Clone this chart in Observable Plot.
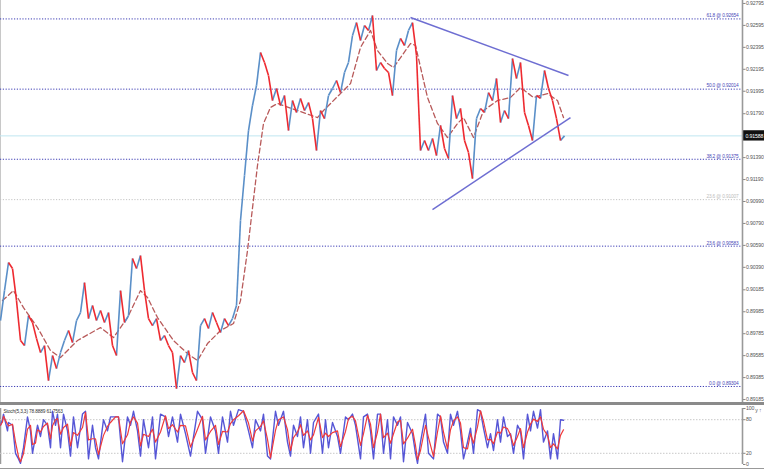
<!DOCTYPE html>
<html><head><meta charset="utf-8">
<script src="https://cdn.jsdelivr.net/npm/d3@7"></script>
<script src="https://cdn.jsdelivr.net/npm/@observablehq/plot@0.6"></script>
<style>
html,body{margin:0;padding:0;background:#fff;overflow:hidden}
#main,#stoch{width:764px}
#stoch{border-top:3px solid #8a8a8a;border-bottom:1px solid #999}
svg{display:block}
svg text{letter-spacing:-0.15px}
</style></head><body>
<div id="main"></div><div id="stoch"></div>
<script>
// Price path, one sample every 2 bars
const price = [
0.89905,0.90178,0.90434,0.90379,0.90087,0.89723,0.89677,0.89950,0.89887,0.89741,
0.89613,0.89677,0.89358,0.89586,0.89467,0.89613,0.89723,0.89814,0.89704,0.89905,
0.89978,0.90251,0.89923,0.90042,0.89905,0.89996,0.89887,0.89978,0.89677,0.89586,
0.90178,0.89887,0.89950,0.90470,0.90379,0.90497,0.90178,0.89923,0.89859,0.89923,
0.89723,0.89768,0.89677,0.89613,0.89285,0.89586,0.89522,0.89631,0.89431,0.89358,
0.89859,0.89923,0.89832,0.89978,0.89887,0.89796,0.89923,0.89859,0.89923,0.90042,
0.90817,0.91227,0.91637,0.91865,0.92047,0.92348,0.92257,0.92138,0.91910,0.92020,
0.91865,0.91956,0.91637,0.91910,0.91801,0.91929,0.91819,0.91892,0.91746,0.91455,
0.91819,0.91746,0.91956,0.92020,0.92093,0.91983,0.92166,0.92257,0.92503,0.92621,
0.92457,0.92594,0.92549,0.92685,0.92184,0.92257,0.92202,0.92166,0.91956,0.92366,
0.92476,0.92412,0.92549,0.92621,0.92321,0.91455,0.91546,0.91455,0.91564,0.91409,
0.91683,0.91473,0.91382,0.91956,0.91746,0.91838,0.91546,0.91436,0.91199,0.91746,
0.91838,0.91801,0.91983,0.91910,0.92111,0.91710,0.91819,0.91746,0.92293,0.92111,
0.92257,0.91801,0.91683,0.91546,0.91956,0.91929,0.92184,0.92020,0.91910,0.91746,
0.91546,0.91588];
const currentPrice = 0.91588;

// Moving average (dashed)
const maBars = [1,6.5,11.5,18.5,25,30,38.5,50,56.5,63.5,70,73.5,78.5,86.5,93.5,98.5,103.5,110,116.5,120,
123.5,128.5,131.5,135,138.5,148.5,158.5,161.5,175,180,185,188.5,193.5,196.5,205,207.5,213.5,218.5,223.5,228.5,
231.5,236.5,241.5,248.5,255,260,266.5,273.5,278.5,281.5];
const maVals = [0.90087,0.90178,0.90023,0.89841,0.89631,0.89568,0.89723,0.89841,0.89750,0.89932,
0.90178,0.90115,0.89932,0.89723,0.89604,0.89540,0.89695,0.89814,0.89878,0.90087,
0.90543,0.91318,0.91701,0.91847,0.91883,0.91819,0.91755,0.91819,0.92065,0.92394,
0.92549,0.92366,0.92248,0.92211,0.92430,0.92412,0.91938,0.91701,0.91573,0.91701,
0.91755,0.91573,0.91819,0.91910,0.91938,0.92029,0.91938,0.91974,0.91910,0.91755];

// Triangle trend lines
const trendStartBar = [205, 216];
const trendStartVal = [0.92667, 0.90917];
const trendEndBar = [284, 285];
const trendEndVal = [0.92138, 0.91755];

// Fibonacci levels
const fibLabels = ["61.8 @ 0.92654","50.0 @ 0.92014","38.2 @ 0.91375","23.6 @ 0.91007","23.6 @ 0.90583","0.0 @ 0.89304"];
const fibValues = [0.92654,0.92014,0.91375,0.91007,0.90583,0.89304];
const fibSet = ["a","a","a","b","a","a"];

// Price axis ticks
const yTicks = [0.92795,0.92595,0.92395,0.92195,0.91995,0.91790,0.91390,0.91190,0.90990,0.90790,0.90590,0.90390,0.90185,0.89985,0.89785,0.89585,0.89385,0.89185];

// Stochastic (5,3,3)
const stochBars = [0,1,1.5,3.5,4,6,7.5,9,10,11.5,
13.5,15,16,17.5,18.5,20,21.5,23.5,25,26,
27.5,28.5,30,31.5,33.5,35,36.5,38.5,41,42.5,
44,46,47.5,49,51.5,53.5,55,57.5,59,61,
63.5,65,66.5,68.5,70,71.5,74,76,77.5,80,
82.5,84,86,88.5,90,92.5,95,98.5,101,102.5,
105,107.5,109,111,113.5,115,116.5,119,121.5,124,
126,127.5,130,131.5,133.5,135,137.5,139,141.5,143.5,
145,146.5,148.5,150,151.5,153.5,155,156.5,159,161,
162.5,164,166,168.5,170,172.5,174,176,177.5,180,
181.5,183.5,185,186.5,188.5,190,191.5,193.5,195,196.5,
198.5,200,201.5,203.5,206,207.5,208.5,210,212.5,214,
216.5,218.5,220,221.5,223.5,225,226.5,228.5,230,231.5,
233.5,235,236.5,238.5,240,241.5,243.5,245,246.5,248.5,
250,251.5,253.5,255,256.5,258.5,260,261.5,263.5,265,
266.5,268.5,270,271.5,273.5,275,276.5,278.5,280,281.5];
const stochK = [70,80,90,60,75,70,20,10,2,30,
85,60,20,50,70,50,80,70,30,95,
70,90,30,90,60,15,85,30,90,95,
10,70,30,10,80,60,85,85,85,5,
85,70,95,60,15,80,30,85,10,90,
85,50,85,40,90,55,15,95,80,20,
85,60,20,85,40,95,70,98,95,60,
30,80,60,90,15,10,95,70,95,40,
15,70,50,85,30,80,20,75,90,20,
80,30,75,50,20,85,80,90,70,10,
85,90,60,10,90,90,20,80,10,85,
70,85,5,75,55,20,2,40,90,20,
10,90,85,40,20,90,70,95,60,10,
40,65,20,98,95,65,30,55,25,80,
40,85,50,55,20,70,60,10,90,60,
95,65,98,40,60,10,55,10,80,79];
const stochD = [70,76,86,72,69,72,40,14,5,19,
63,70,36,38,62,58,68,74,46,69,
80,82,54,66,72,33,57,52,66,93,
44,46,46,18,52,68,75,85,85,37,
53,76,85,74,33,54,50,63,40,58,
87,64,71,58,70,69,31,63,86,44,
59,70,36,59,58,73,80,87,96,74,
42,60,68,78,45,12,61,80,85,62,
25,48,58,71,52,60,44,53,84,48,
56,50,57,60,32,59,82,86,78,34,
55,88,72,30,58,90,48,56,38,55,
76,79,37,47,63,34,9,25,70,48,
14,58,87,58,28,62,78,85,74,30,
28,55,38,67,96,77,44,45,37,58,
56,67,64,53,34,50,64,30,58,72,
81,77,85,63,52,30,37,28,52,62];
const stochTicks = [100,80,20,0];
const stochLevels = [80,20];
const stochTitle = "Stoch(5,3,3) 78.8889 61.7563";

const W = 764, XMAX = 371;
const FONT = "'Liberation Sans', Arial, sans-serif";

const segs = price.slice(1).map((p, i) => ({x1: i * 2, y1: price[i], x2: (i + 1) * 2, y2: p, up: p >= price[i]}));
const ma = maBars.map((b, i) => ({x: b, y: maVals[i]}));
const trends = trendStartBar.map((b, i) => ({x1: b, y1: trendStartVal[i], x2: trendEndBar[i], y2: trendEndVal[i]}));
const fibs = fibValues.map((v, i) => ({v, label: fibLabels[i], set: fibSet[i]}));

const main = Plot.plot({
  width: W, height: 402,
  marginLeft: 0, marginRight: 22, marginTop: 0, marginBottom: 0,
  style: {fontFamily: FONT, fontSize: "5.2px", background: "#fff", color: "#444"},
  x: {domain: [0, XMAX], axis: null},
  y: {domain: [0.89158, 0.92822], axis: null},
  marks: [
    Plot.ruleX([0], {stroke: "#c8c8c8"}),
    Plot.ruleY(fibs.filter(d => d.set === "a"), {y: "v", stroke: "#3c3cb4", strokeWidth: 1, strokeDasharray: "1.2,1.6"}),
    Plot.ruleY(fibs.filter(d => d.set === "b"), {y: "v", stroke: "#c4c4c4", strokeWidth: 1, strokeDasharray: "1.2,1.6"}),
    Plot.ruleY([currentPrice], {stroke: "#bfe6f0", strokeWidth: 1}),
    Plot.line(ma, {x: "x", y: "y", stroke: "#b85a5a", strokeWidth: 1.3, strokeDasharray: "5,3"}),
    Plot.link(segs.filter(d => d.up), {x1: "x1", y1: "y1", x2: "x2", y2: "y2", stroke: "#5a8fc8", strokeWidth: 1.6}),
    Plot.link(segs.filter(d => !d.up), {x1: "x1", y1: "y1", x2: "x2", y2: "y2", stroke: "#ee2a30", strokeWidth: 1.6}),
    Plot.link(trends, {x1: "x1", y1: "y1", x2: "x2", y2: "y2", stroke: "#6e6ed2", strokeWidth: 1.5}),
    Plot.text(fibs.filter(d => d.set === "a"), {y: "v", text: "label", frameAnchor: "right", textAnchor: "end", dx: -4, dy: -3.2, fill: "#4848b8", fontSize: 4.8}),
    Plot.text(fibs.filter(d => d.set === "b"), {y: "v", text: "label", frameAnchor: "right", textAnchor: "end", dx: -4, dy: -3.2, fill: "#bdbdbd", fontSize: 4.8}),
    Plot.axisY({anchor: "right", ticks: yTicks, tickFormat: d => d.toFixed(5), tickSize: 2.5, tickPadding: 1, fontSize: 5.2, fill: "#555", stroke: "#888"}),
    Plot.ruleX([XMAX], {stroke: "#999", strokeWidth: 1.6}),
    Plot.rect([currentPrice], {x1: XMAX + 0.6, x2: 382, y1: d => d - 0.00047, y2: d => d + 0.00047, fill: "#111"}),
    Plot.text([currentPrice], {x: 376.9, y: d => d, text: d => d.toFixed(5), fill: "#fff", fontSize: 5.2})
  ]
});
document.getElementById("main").appendChild(main);

const kData = stochBars.map((b, i) => ({x: b, y: stochK[i]}));
const dData = stochBars.map((b, i) => ({x: b, y: stochD[i]}));

const stoch = Plot.plot({
  width: W, height: 63,
  marginLeft: 0, marginRight: 22, marginTop: 3, marginBottom: 4,
  style: {fontFamily: FONT, fontSize: "5.2px", background: "#fff", color: "#444"},
  x: {domain: [0, XMAX], axis: null},
  y: {domain: [0, 100], axis: null},
  marks: [
    Plot.ruleX([0], {stroke: "#999", strokeWidth: 1.5}),
    Plot.ruleY(stochLevels, {stroke: "#c8c8c8", strokeDasharray: "1.5,1.5"}),
    Plot.line(kData, {x: "x", y: "y", stroke: "#5656d6", strokeWidth: 1.4}),
    Plot.line(dData, {x: "x", y: "y", stroke: "#f03a3a", strokeWidth: 1.2}),
    Plot.text([stochTitle], {frameAnchor: "top-left", dx: 3, dy: 1, text: d => d, fill: "#333", fontSize: 4.8}),
    Plot.axisY({anchor: "right", ticks: stochTicks, tickFormat: d => String(d), tickSize: 2.5, tickPadding: 1, fontSize: 5.2, fill: "#555", stroke: "#888"}),
    Plot.ruleX([XMAX], {stroke: "#999", strokeWidth: 1.6})
  ]
});
document.getElementById("stoch").appendChild(stoch);
</script></body></html>
